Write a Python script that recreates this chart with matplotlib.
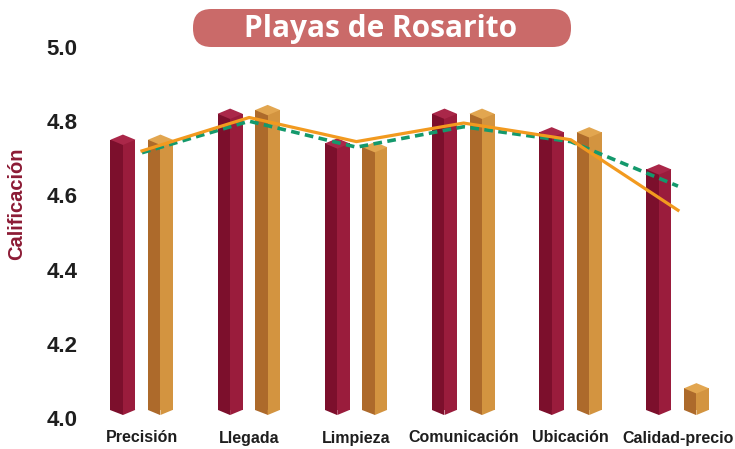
import matplotlib
matplotlib.use("Agg")
import matplotlib.pyplot as plt
from matplotlib.patches import FancyBboxPatch
import numpy as np

plt.rcParams["font.family"] = ["Liberation Sans", "DejaVu Sans"]

# categories and ratings
categories = ["Precisión", "Llegada", "Limpieza", "Comunicación", "Ubicación", "Calidad-precio"]
rating_a = [4.75, 4.82, 4.74, 4.82, 4.77, 4.67]
rating_b = [4.75, 4.83, 4.73, 4.82, 4.77, 4.08]
trend_solid = [4.72, 4.81, 4.745, 4.795, 4.75, 4.56]
trend_dashed = [4.715, 4.80, 4.73, 4.785, 4.745, 4.625]
yticks = [4.0, 4.2, 4.4, 4.6, 4.8, 5.0]

W, H = 735, 449
fig = plt.figure(figsize=(W / 100, H / 100), dpi=100)
ax = fig.add_axes([88.4 / W, 31 / H, (726.2 - 88.4) / W, 371 / H])
ax.set_xlim(-0.5, 5.45)
ax.set_ylim(4.0, 5.0)

x = np.arange(len(categories))
bar_w = 0.233
base = 4.022
tip = 0.014  # height of the pointed top / bottom


def pillar(xc, vals, dark, light, top):
    vals = np.asarray(vals)
    left = xc - bar_w / 2
    ax.bar(left, vals - base, width=bar_w / 2, bottom=base, align="edge",
           color=dark, linewidth=0, zorder=2)
    ax.bar(xc, vals - base, width=bar_w / 2, bottom=base, align="edge",
           color=light, linewidth=0, zorder=2)
    for c, v in zip(xc, vals):
        l, r = c - bar_w / 2, c + bar_w / 2
        ax.fill([l, c, r, c], [v, v + tip, v, v - tip], color=top, lw=0, zorder=3)
        ax.fill([l, c, c], [base, base, base - tip], color=dark, lw=0,
                zorder=2, clip_on=False)
        ax.fill([c, r, c], [base, base, base - tip], color=light, lw=0,
                zorder=2, clip_on=False)


pillar(x - 0.178, rating_a, "#7c0f2c", "#9a1c3c", "#aa2749")
pillar(x + 0.172, rating_b, "#ad6a2b", "#d39440", "#e2a650")

ax.plot(x, trend_dashed, color="#14996c", lw=2.6, ls=(0, (2.4, 1.5)), zorder=4)
ax.plot(x, trend_solid, color="#f29a1f", lw=2.3, zorder=5)

ax.set_xticks(x)
ax.set_xticklabels(categories, fontsize=11.5, fontweight="bold", color="#1e1e1e")
ax.set_yticks(yticks)
ax.set_yticklabels([f"{t:.1f}" for t in yticks], fontsize=16, fontweight="bold",
                   color="#1e1e1e")
ax.tick_params(axis="x", length=0, pad=9)
ax.tick_params(axis="y", length=0, pad=8)
for s in ax.spines.values():
    s.set_visible(False)

fig.text(17 / W, 1 - 204 / H, "Calificación", rotation=90, ha="center", va="center",
         fontsize=14.5, fontweight="bold", color="#8c1b35")

# title banner
box = FancyBboxPatch((193 / W, 1 - 47 / H), (571 - 193) / W, 38 / H,
                     boxstyle="round,pad=0,rounding_size=0.025",
                     transform=fig.transFigure, facecolor="#ca6a69",
                     edgecolor="none", mutation_aspect=W / H)
fig.patches.append(box)
fig.text(381 / W, 1 - 29 / H, "Playas de Rosarito", ha="center", va="center",
         fontsize=21.5, fontweight="bold", color="white", family="Open Sans")

fig.savefig("out.png", dpi=100, facecolor="white")
